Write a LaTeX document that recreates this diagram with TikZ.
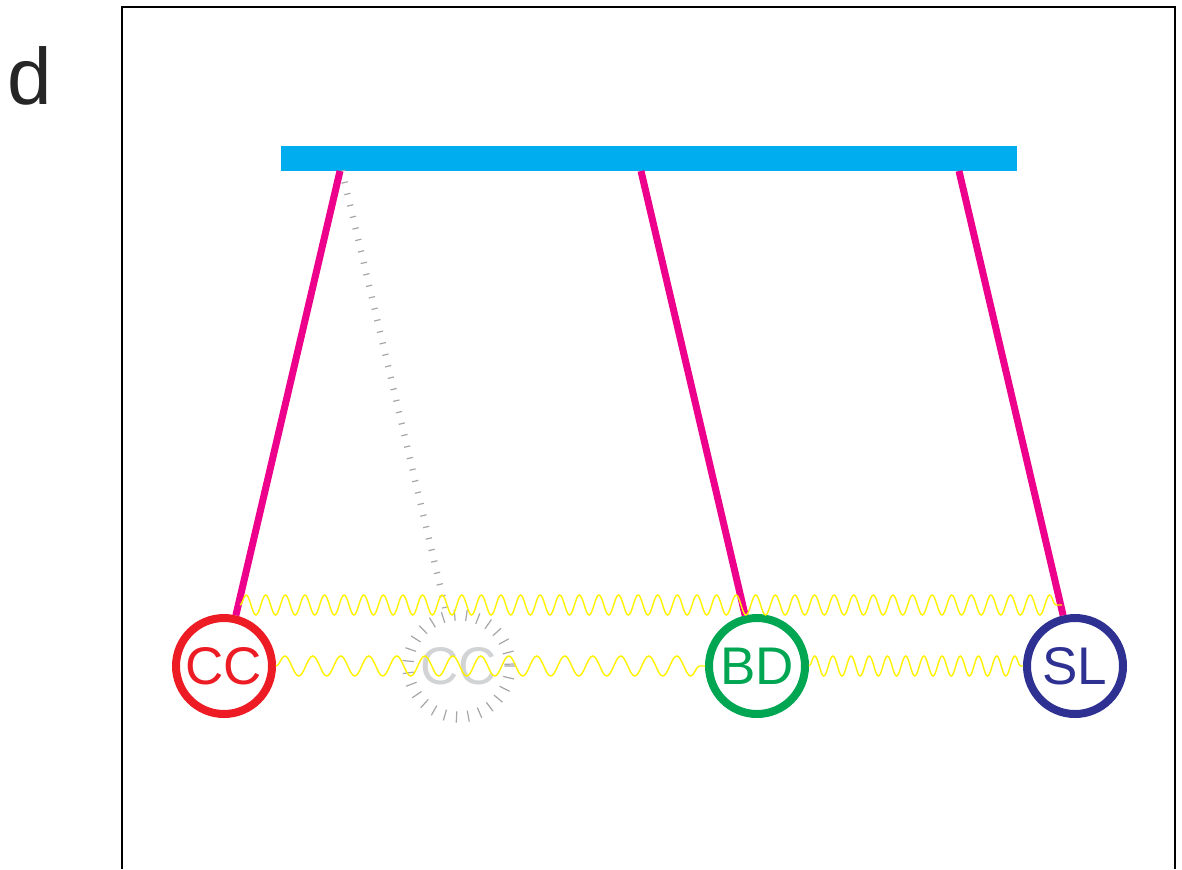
\documentclass[tikz,border=0pt]{standalone}
\usepackage{fontspec}
\setmainfont{Liberation Sans}
\usetikzlibrary{decorations.pathmorphing,decorations.pathreplacing}
\definecolor{barblue}{HTML}{00AEEF}
\definecolor{strmag}{HTML}{EC008C}
\definecolor{ccred}{HTML}{ED1C24}
\definecolor{bdgreen}{HTML}{00A651}
\definecolor{slblue}{HTML}{2E3192}
\definecolor{wavey}{HTML}{FFF200}
\definecolor{ghostgray}{HTML}{D1D3D4}
\tikzset{ball/.style={circle, draw, line width=4pt, minimum size=48pt, inner sep=0pt, font=\fontsize{26.5}{28}\selectfont},
  string/.style={strmag, line width=3.5pt},
  spring/.style={wavey, line width=0.7pt, decorate, decoration={snake, amplitude=5pt, segment length=#1}},
  ghosttick/.style={gray!70, line width=0.6pt, decorate, decoration={ticks, amplitude=#1, segment length=5.9pt}}}

\begin{document}
\begin{tikzpicture}[x=0.5pt, y=-0.5pt]
      \useasboundingbox (0,0) rectangle (1182,869);
      \draw[line width=1pt] (122,869) -- (122,7) -- (1175,7) -- (1175,869);
      \node [anchor=base, font=\fontsize{40}{42}\selectfont, text=black!85] (panel) at (30,104) {d};
      \node [fill=barblue, minimum width=368pt, minimum height=12.5pt, inner sep=0pt] (bar) at (649,158.5) {};
      \coordinate (hcc) at (340,171);
      \coordinate (hghost) at (342,171);
      \coordinate (hbd) at (641,171);
      \coordinate (hsl) at (959,171);
      \node [circle, minimum size=50pt, inner sep=0pt, text=ghostgray, font=\fontsize{26.5}{28}\selectfont] (ghost) at (459,666) {CC};
      \draw [ghosttick=2.8pt] (ghost) circle (51);
      \draw [ghosttick=1.6pt] (hghost) -- (ghost);
      \node [ball, ccred] (cc) at (224,666) {CC};
      \node [ball, bdgreen] (bd) at (757,666) {BD};
      \node [ball, slblue] (sl) at (1075,666) {SL};
      \draw [string] (hcc) -- (cc);
      \draw [string] (hbd) -- (bd);
      \draw [string] (hsl) -- (sl);
      \coordinate (wl) at (240,605);
      \coordinate (wr) at (1062,605);
      \draw [spring=9.8pt] (wl) -- (wr);
      \draw [spring=14pt] (cc.east) -- (bd.west);
      \draw [spring=9.1pt] (bd.east) -- (sl.west);
    \end{tikzpicture}
\end{document}
